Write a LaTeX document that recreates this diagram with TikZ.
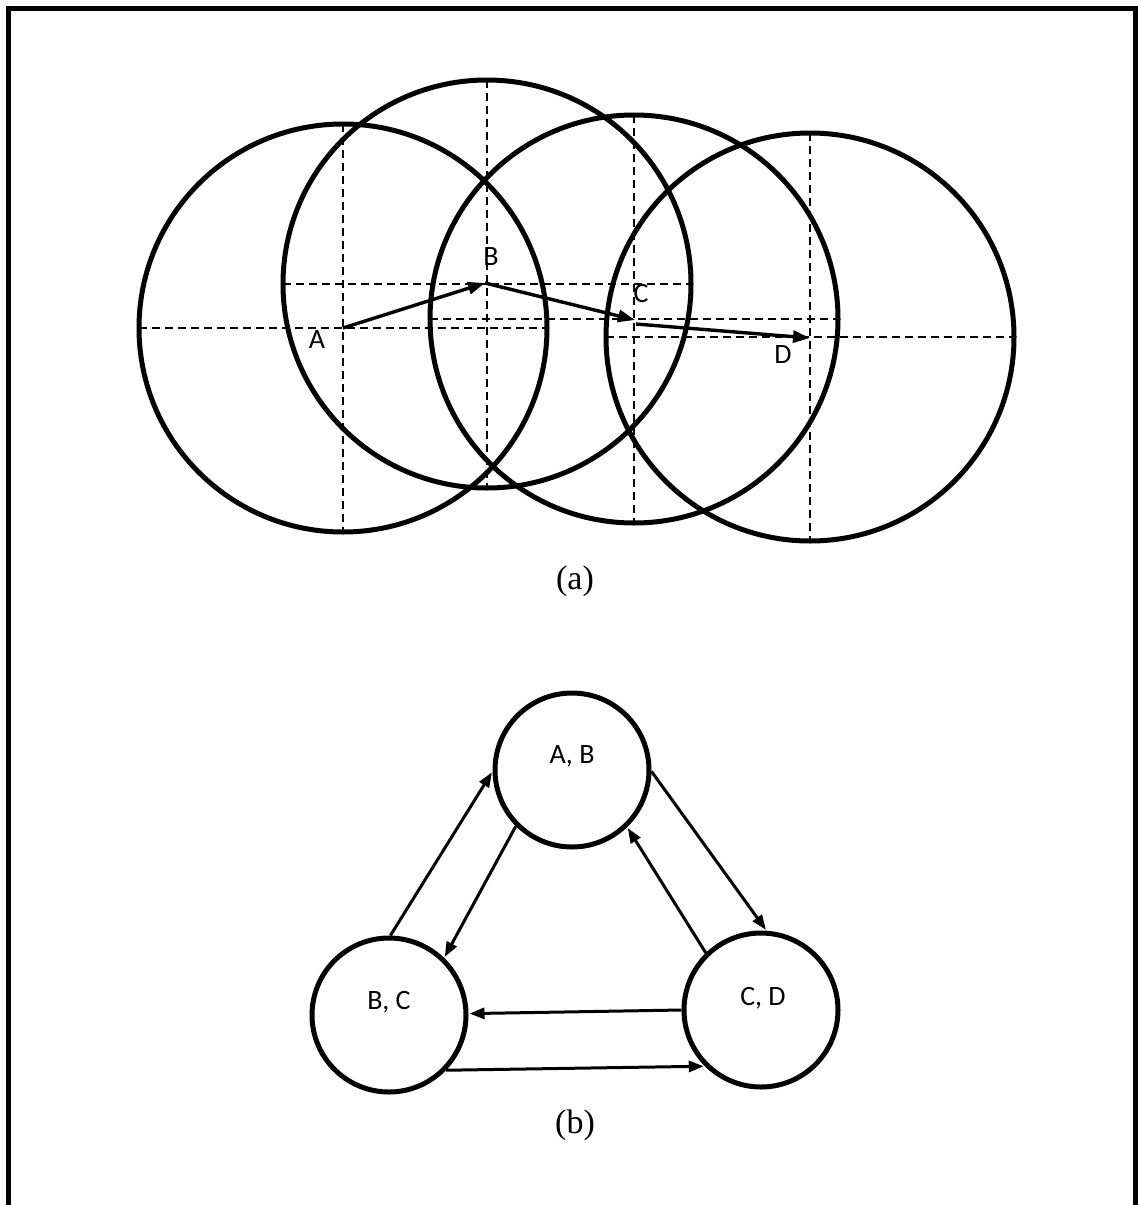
\documentclass[tikz,border=0pt]{standalone}
\usepackage{fontspec}
\setmainfont{Liberation Serif}
\newfontfamily\lblfont{Carlito}
\usetikzlibrary{arrows.meta}
\begin{document}
\begin{tikzpicture}[x=1pt,y=-1pt,
  bigcirc/.style={line width=5pt},
  axisline/.style={line width=1.8pt,dash pattern=on 8pt off 5pt},
  vec/.style={line width=3.4pt,-{Triangle[length=17pt,width=12pt]}},
  state/.style={circle,draw,line width=5pt,minimum size=154pt,inner sep=0pt},
  link/.style={line width=3pt,-{Triangle[length=15pt,width=11pt]},shorten >=1pt},
  lbl/.style={font=\lblfont\fontsize{28}{32}\selectfont,inner sep=0pt},
  captext/.style={font=\fontsize{34}{40}\selectfont,inner sep=0pt}]
\useasboundingbox (0,0) rectangle (1138,1205);
\draw[line width=5pt] (8.5,1205) -- (8.5,8.5) -- (1135.5,8.5) -- (1135.5,1205);
% (a)
\foreach \cx/\cy in {343/328, 487/284, 634/319, 810/337}{
  \draw[bigcirc] (\cx,\cy) circle[radius=204];
  \draw[axisline] (\cx-204,\cy) -- (\cx+204,\cy);
  \draw[axisline] (\cx,\cy-204) -- (\cx,\cy+204);
}
\coordinate (A) at (343,328);
\coordinate (B) at (485,283);
\coordinate (C) at (635,320);
\coordinate (Cs) at (636,324);
\coordinate (D) at (810,338);
\draw[vec] (A) -- (B);
\draw[vec] (B) -- (C);
\draw[vec] (Cs) -- (D);
\node[lbl] (la) at (317,340) {A};
\node[lbl] (lb) at (491,257) {B};
\node[lbl] (lc) at (641,294) {C};
\node[lbl] (ld) at (783,355) {D};
\node[captext] (capa) at (575,581) {(a)};
% (b)
\node[state] (ab) at (572,770) {};
\node[state] (bc) at (389,1015) {};
\node[state] (cd) at (761,1010) {};
\node[lbl] (abt) at (572,756) {A, B};
\node[lbl] (bct) at (389,1002) {B, C};
\node[lbl] (cdt) at (763,998) {C, D};
\draw[link] (bc.89) -- (ab.181);
\draw[link] (ab.225) -- (bc.46);
\draw[link] (ab.359) -- (cd.86);
\draw[link] (cd.134) -- (ab.314);
\draw[link] (cd.180) -- (bc.1);
\draw[link] (bc.-44) -- (cd.225);
\node[captext] (capb) at (575,1125) {(b)};
\end{tikzpicture}
\end{document}
